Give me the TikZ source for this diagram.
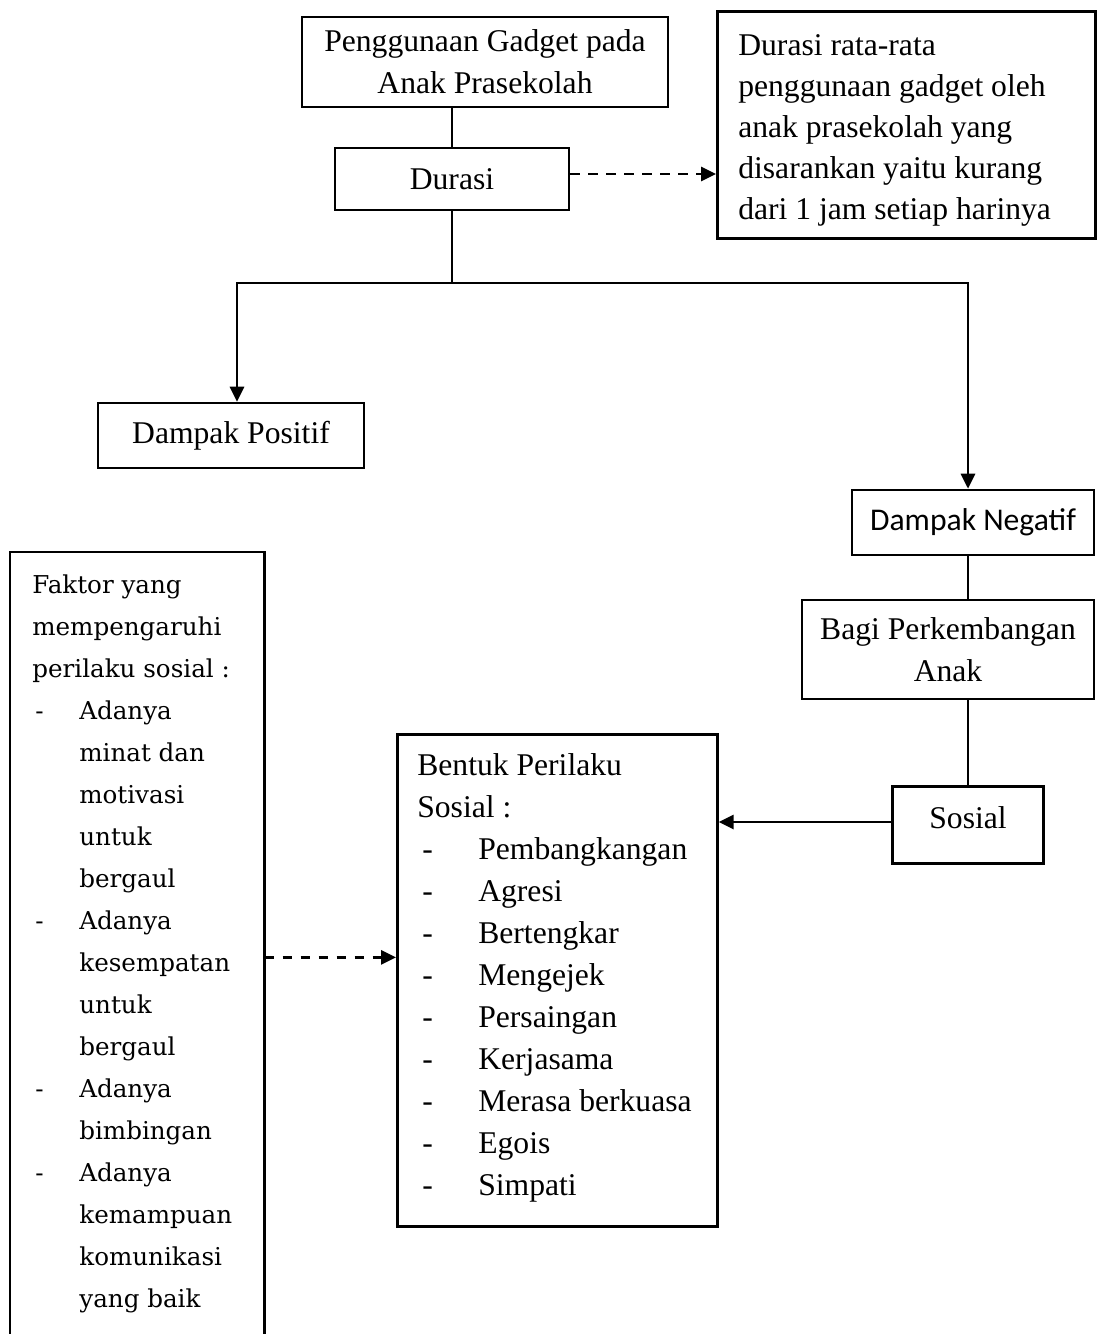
\documentclass[tikz,border=0pt]{standalone}
\usepackage{fontspec}
\setmainfont{Liberation Serif}
\newfontfamily\calfont{Carlito}
\newfontfamily\wideserif{DejaVu Serif}
\usetikzlibrary{arrows.meta}

\newlength{\px}
\setlength{\px}{0.02cm}
% dash in front of a list line, and the indent of its follow-up lines
\newcommand{\dashcol}[2]{\makebox[#2\px][l]{\hspace*{#1\px}-}}
\newcommand{\indentcol}[1]{\hspace*{#1\px}}

\tikzset{
  box/.style={draw, line width=1.5pt, inner sep=0pt, align=center},
  link/.style={line width=1.5pt},
  solidarrow/.style={line width=1.5pt, -{Triangle[length=8.5pt,width=8pt]}},
  dasharrow/.style={line width=1.5pt, dash pattern=on 0.19cm off 0.17cm, -{Triangle[length=8.5pt,width=8pt]}}
}

\begin{document}
\begin{tikzpicture}[x=0.02cm, y=-0.02cm, font=\fontsize{18}{23.9}\selectfont]
        \useasboundingbox (0,0) rectangle (1097,1334);
        \coordinate (pagebottom) at (0,1334);

        % top of the tree
        \node[box, minimum width=366\px, minimum height=90\px] (gadget) at (485,62) {Penggunaan Gadget pada\\Anak Prasekolah};
        \node[box, minimum width=234\px, minimum height=62\px] (durasi) at (452,179) {Durasi};
        \node[box, anchor=north west] (info) at (716,10) {\parbox[c][227\px][t]{378\px}{\raggedright\leftskip=21\px
            \fontsize{18}{23.4}\selectfont\vspace*{15\px}\strut Durasi rata-rata\\penggunaan gadget oleh\\anak prasekolah yang\\disarankan yaitu kurang\\dari 1 jam setiap harinya}};

        % the two kinds of impact
        \coordinate (split) at (452,283);
        \node[box, minimum width=266\px, minimum height=65\px] (positif) at (231,435.5) {Dampak Positif};
        \node[box, font=\calfont\fontsize{18}{22}\selectfont, minimum width=242\px, minimum height=65\px] (negatif) at (973,522.5) {Dampak Negatif};
        \node[box, minimum width=292\px, minimum height=99\px] (bagi) at (948,649.5) {Bagi Perkembangan\\Anak};
        \node[box, minimum width=151\px, minimum height=77\px] (sosial) at (968,825) {\raisebox{7\px}[\height][\depth]{Sosial}};

        % lists
        \node[box, anchor=north west] (bentuk) at (396,733) {\parbox[c][492\px][t]{320\px}{\raggedright\leftskip=20\px
            \vspace*{12\px}\strut Bentuk Perilaku\\Sosial :\\
            \dashcol{5}{61}Pembangkangan\\\dashcol{5}{61}Agresi\\\dashcol{5}{61}Bertengkar\\
            \dashcol{5}{61}Mengejek\\\dashcol{5}{61}Persaingan\\\dashcol{5}{61}Kerjasama\\
            \dashcol{5}{61}Merasa berkuasa\\\dashcol{5}{61}Egois\\\dashcol{5}{61}Simpati}};
        \node[anchor=north west, inner sep=0pt, font=\wideserif\fontsize{14}{23.9}\selectfont] (faktor) at (10,552) {\parbox[c][810\px][t]{254\px}{\raggedright\leftskip=22\px
            \vspace*{12\px}\strut Faktor yang\\mempengaruhi\\perilaku sosial :\\
            \dashcol{3}{47}Adanya\\\indentcol{47}minat dan\\\indentcol{47}motivasi\\\indentcol{47}untuk\\\indentcol{47}bergaul\\
            \dashcol{3}{47}Adanya\\\indentcol{47}kesempatan\\\indentcol{47}untuk\\\indentcol{47}bergaul\\
            \dashcol{3}{47}Adanya\\\indentcol{47}bimbingan\\
            \dashcol{3}{47}Adanya\\\indentcol{47}kemampuan\\\indentcol{47}komunikasi\\\indentcol{47}yang baik}};
        \draw[link] (faktor.west |- pagebottom) -- (faktor.north west) -- (faktor.north east) -- (faktor.east |- pagebottom);

        % connectors
        \draw[link] (durasi.north) -- (durasi.north |- gadget.south);
        \draw[dasharrow] ([yshift=0.1cm]durasi.east) -- ([yshift=0.1cm]durasi.east -| info.west);
        \draw[link] (durasi.south) -- (split);
        \draw[solidarrow] (split) -| ([xshift=0.12cm]positif.north);
        \draw[solidarrow] (split) -| (negatif.north -| sosial.north);
        \draw[link] (negatif.south -| sosial.north) -- (bagi.north -| sosial.north);
        \draw[link] (bagi.south -| sosial.north) -- (sosial.north);
        \draw[solidarrow] ([yshift=0.06cm]sosial.west) -- ([yshift=0.06cm]sosial.west -| bentuk.east);
        \draw[dasharrow] (faktor.east) -- (faktor.east -| bentuk.west);
\end{tikzpicture}
\end{document}
